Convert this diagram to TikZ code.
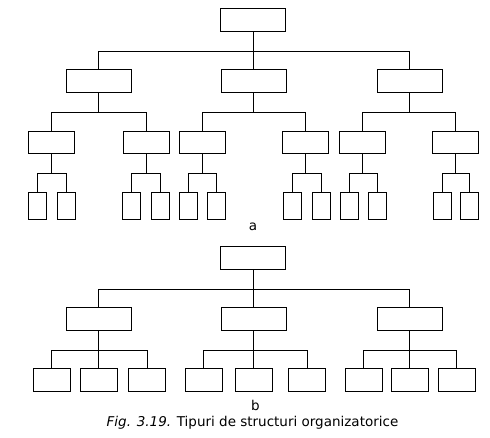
\documentclass[tikz,border=0pt]{standalone}
\usepackage{fontspec}
\setmainfont{DejaVu Sans}
\begin{document}
\begin{tikzpicture}[x=1pt,y=-1pt,
  bx/.style={draw,line width=1pt,inner sep=0pt,outer sep=0pt},
  big/.style={bx,minimum width=65pt,minimum height=23pt},
  mid/.style={bx,minimum width=46pt,minimum height=22pt},
  tall/.style={bx,minimum width=18pt,minimum height=27pt},
  wide/.style={bx,minimum width=37pt,minimum height=23pt},
  ln/.style={line width=1pt},
  lbl/.style={font=\fontsize{13.5}{16}\selectfont,inner sep=0pt}]
\useasboundingbox[fill=white] (0,0) rectangle (490,438);
% ---------- diagram a ----------
\node[big] (a0) at (253,19.8) {};
\node[big] (a1) at (98.8,80.8) {};
\node[big] (a2) at (253.8,80.8) {};
\node[big] (a3) at (409.8,80.8) {};
\coordinate (busa0) at (0,51.3);
\draw[ln] (a0.south) -- (a0.south |- busa0);
\draw[ln] (a1.north) -- (a1.north |- busa0) -- (a3.north |- busa0) -- (a3.north);
\draw[ln] (a2.north) -- (a2.north |- busa0);
% level 3
\foreach \n/\x in {b1/51.3,b2/146.3,b3/202.3,b4/305.3,b5/362.3,b6/455.3}
  \node[mid] (\n) at (\x,142.3) {};
\coordinate (busa1) at (0,112.3);
\foreach \p/\l/\r in {a1/b1/b2,a2/b3/b4,a3/b5/b6}{
  \draw[ln] (\p.south) -- (\p.south |- busa1);
  \draw[ln] (\l.north) -- (\l.north |- busa1) -- (\r.north |- busa1) -- (\r.north);
}
% level 4
\foreach \n/\x in {c1/37.3,c2/66.5,c3/131.3,c4/160.3,c5/188.3,c6/216.3,c7/292.3,c8/321.8,c9/349.3,c10/377.8,c11/442.3,c12/469.3}
  \node[tall] (\n) at (\x,205.8) {};
\coordinate (busa2) at (0,173.3);
\foreach \p/\l/\r in {b1/c1/c2,b2/c3/c4,b3/c5/c6,b4/c7/c8,b5/c9/c10,b6/c11/c12}{
  \draw[ln] (\p.south) -- (\p.south |- busa2);
  \draw[ln] (\l.north) -- (\l.north |- busa2) -- (\r.north |- busa2) -- (\r.north);
}
\node[lbl] (la) at (253,227) {a};
% ---------- diagram b ----------
\node[big] (d0) at (253,258) {};
\node[big] (d1) at (98.8,318.8) {};
\node[big] (d2) at (253.8,318.8) {};
\node[big] (d3) at (409.8,318.8) {};
\coordinate (busb0) at (0,289.3);
\draw[ln] (d0.south) -- (d0.south |- busb0);
\draw[ln] (d1.north) -- (d1.north |- busb0) -- (d3.north |- busb0) -- (d3.north);
\draw[ln] (d2.north) -- (d2.north |- busb0);
\foreach \n/\x in {e1/51.8,e2/98.8,e3/147.3,e4/203.8,e5/253.8,e6/307.3,e7/363.8,e8/409.8,e9/456.8}
  \node[wide] (\n) at (\x,379.8) {};
\coordinate (busb1) at (0,350.3);
\foreach \p/\l/\m/\r in {d1/e1/e2/e3,d2/e4/e5/e6,d3/e7/e8/e9}{
  \draw[ln] (\p.south) -- (\m.north);
  \draw[ln] (\l.north) -- (\l.north |- busb1) -- (\r.north |- busb1) -- (\r.north);
}
\node[lbl] (lb) at (255.5,405) {b};
\node[lbl,anchor=base] (cap) at (252.5,426) {\textit{Fig. 3.19.} Tipuri de structuri organizatorice};
\end{tikzpicture}
\end{document}
